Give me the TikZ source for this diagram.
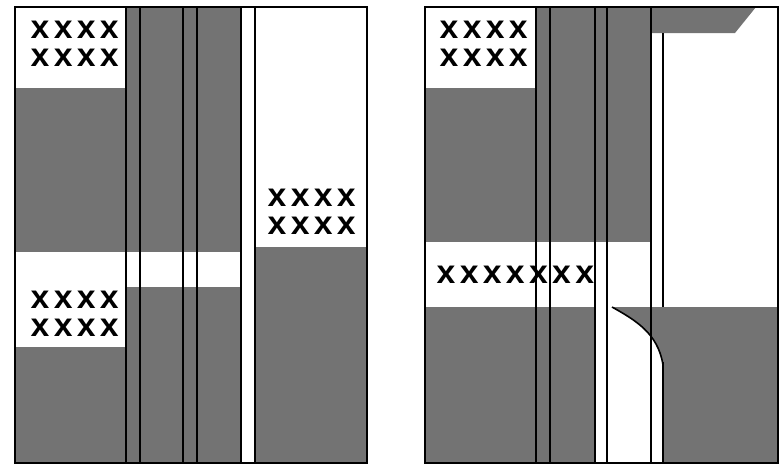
\documentclass[tikz,border=0pt]{standalone}
\usepackage{fontspec}
\newfontfamily\xfont[LetterSpace=10]{Liberation Mono}
\begin{document}
\begin{tikzpicture}[x=1pt,y=-1pt,
  gfill/.style={fill=black!55},
  lthin/.style={line width=1.6pt},
  lthick/.style={line width=2.6pt},
  frame/.style={line width=2.1pt},
  xtext/.style={anchor=west,inner sep=0pt,align=left,font=\xfont\bfseries\fontsize{33}{28}\selectfont}]
\useasboundingbox (0,0) rectangle (784,466);
% ---------- left panel ----------
\fill[gfill] (15,88) rectangle (126,252);
\fill[gfill] (15,347) rectangle (126,463);
\fill[gfill] (126,7) rectangle (241,252);
\fill[gfill] (126,287) rectangle (241,463);
\fill[gfill] (255,247) rectangle (367,463);
\draw[lthin] (126,7) -- (126,463);
\draw[lthick] (140,7) -- (140,463);
\draw[lthin] (183,7) -- (183,463);
\draw[lthick] (197,7) -- (197,463);
\draw[lthick] (241,7) -- (241,463);
\draw[lthick] (255,7) -- (255,463);
\draw[frame] (15,7) rectangle (367,463);
\node[xtext] (la) at (30,44) {xxxx\\xxxx};
\node[xtext] (lb) at (30,313.5) {xxxx\\xxxx};
\node[xtext] (lc) at (267,212) {xxxx\\xxxx};
% ---------- right panel ----------
\fill[gfill] (425,88) rectangle (536,242);
\fill[gfill] (425,307) rectangle (594,463);
\fill[gfill] (536,7) rectangle (651,242);
\fill[gfill] (651,7) -- (756,7) -- (735,33) -- (651,33) -- cycle;
\fill[gfill] (612,307) -- (778,307) -- (778,463) -- (663,463) -- (663,365)
  .. controls (658,333) and (635,320) .. (612,307) -- cycle;
\draw[lthin] (612,307) .. controls (635,320) and (658,333) .. (663,365);
\draw[lthin] (536,7) -- (536,463);
\draw[lthick] (550,7) -- (550,463);
\draw[lthick] (595,7) -- (595,463);
\draw[lthick] (607,7) -- (607,463);
\draw[lthick] (651,7) -- (651,463);
\draw[lthick] (663,33) -- (663,307);
\draw[lthick] (663,362) -- (663,463);
\draw[frame] (425,7) rectangle (778,463);
\node[xtext] (ra) at (439,44) {xxxx\\xxxx};
\node[xtext] (rb) at (436,275) {xxxxxxx};
\end{tikzpicture}
\end{document}
